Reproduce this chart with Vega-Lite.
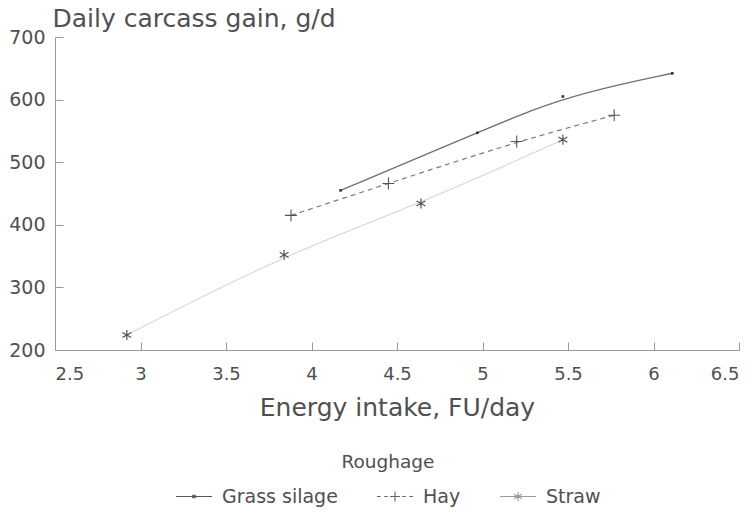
{
  "$schema": "https://vega.github.io/schema/vega-lite/v6.json",
  "autosize": "none",
  "padding": {"left": 55, "top": 37, "right": 14, "bottom": 163},
  "width": 684,
  "height": 313,
  "background": "white",
  "config": {
    "font": "DejaVu Sans",
    "view": {"stroke": null},
    "axis": {"grid": false, "domainColor": "#999", "tickColor": "#999", "labelColor": "#505050", "titleColor": "#505050", "labelFont": "DejaVu Sans", "titleFont": "DejaVu Sans", "titleFontWeight": "normal"}
  },
  "data": {
    "values": [
      {"roughage": "Grass silage", "energy": 4.17, "gain": 455},
      {"roughage": "Grass silage", "energy": 4.97, "gain": 547},
      {"roughage": "Grass silage", "energy": 5.47, "gain": 605},
      {"roughage": "Grass silage", "energy": 6.11, "gain": 642},
      {"roughage": "Hay", "energy": 3.88, "gain": 415},
      {"roughage": "Hay", "energy": 4.45, "gain": 466},
      {"roughage": "Hay", "energy": 5.2, "gain": 533},
      {"roughage": "Hay", "energy": 5.77, "gain": 575},
      {"roughage": "Straw", "energy": 2.92, "gain": 224},
      {"roughage": "Straw", "energy": 3.84, "gain": 352},
      {"roughage": "Straw", "energy": 4.64, "gain": 434},
      {"roughage": "Straw", "energy": 5.47, "gain": 536}
    ]
  },
  "encoding": {
    "x": {
      "field": "energy", "type": "quantitative",
      "scale": {"domain": [2.5, 6.5], "nice": false, "zero": false},
      "axis": {
        "values": [2.5, 3, 3.5, 4, 4.5, 5, 5.5, 6, 6.5],
        "format": "~g",
        "title": "Energy intake, FU/day",
        "titleFontSize": 25,
        "titleBaseline": "alphabetic",
        "titleY": 65,
        "labelFontSize": 18,
        "tickSize": -8,
        "labelPadding": 23
      }
    },
    "y": {
      "field": "gain", "type": "quantitative",
      "scale": {"domain": [200, 700], "nice": false, "zero": false},
      "axis": {
        "values": [200, 300, 400, 500, 600, 700],
        "title": "Daily carcass gain, g/d",
        "titleAngle": 0,
        "titleAlign": "left",
        "titleBaseline": "alphabetic",
        "titleX": -3,
        "titleY": -11,
        "titleFontSize": 25,
        "labelFontSize": 19,
        "tickSize": -8,
        "labelPadding": 18
      }
    }
  },
  "layer": [
    {
      "transform": [{"filter": "datum.roughage === 'Grass silage'"}],
      "mark": {"type": "line", "interpolate": "basis", "color": "#707070", "strokeWidth": 1.4},
      "encoding": {}
    },
    {
      "transform": [{"filter": "datum.roughage === 'Hay'"}],
      "mark": {"type": "line", "interpolate": "basis", "color": "#7a7a7a", "strokeWidth": 1.2, "strokeDash": [5, 4]},
      "encoding": {}
    },
    {
      "transform": [{"filter": "datum.roughage === 'Straw'"}],
      "mark": {"type": "line", "interpolate": "basis", "color": "#cfcfcf", "strokeWidth": 1},
      "encoding": {}
    },
    {
      "transform": [{"filter": "datum.roughage === 'Grass silage'"}],
      "mark": {"type": "point", "filled": false, "color": "#333", "strokeWidth": 1.4, "opacity": 1, "size": 144, "shape": "M-0.1,-0.1L0.1,-0.1L0.1,0.1L-0.1,0.1Z"}
    },
    {
      "transform": [{"filter": "datum.roughage === 'Hay'"}],
      "mark": {"type": "point", "filled": false, "color": "#555", "strokeWidth": 1.1, "opacity": 1, "size": 144, "shape": "M-1,0L1,0M0,-1L0,1"}
    },
    {
      "transform": [{"filter": "datum.roughage === 'Straw'"}],
      "mark": {"type": "point", "filled": false, "color": "#555", "strokeWidth": 1.2, "opacity": 1, "size": 144, "shape": "M0,-0.85L0,0.85M-0.74,-0.43L0.74,0.43M-0.74,0.43L0.74,-0.43"}
    },
    {
      "mark": {"type": "point", "filled": false, "opacity": 0, "strokeWidth": 1.1},
      "encoding": {
        "color": {"field": "roughage", "type": "nominal",
          "scale": {"domain": ["Grass silage", "Hay", "Straw"], "range": ["#555555", "#666666", "#999999"]}},
        "shape": {
          "field": "roughage", "type": "nominal",
          "scale": {"domain": ["Grass silage", "Hay", "Straw"], "range": [
            "M-1,0L1,0M-0.07,-0.07L0.07,-0.07L0.07,0.07L-0.07,0.07Z",
            "M-1,0L-0.8,0M-0.6,0L-0.4,0M0.4,0L0.6,0M0.8,0L1,0M-0.28,0L0.28,0M0,-0.28L0,0.28",
            "M-1,0L1,0M0,-0.25L0,0.25M-0.22,-0.13L0.22,0.13M-0.22,0.13L0.22,-0.13"
          ]},
          "legend": {
            "title": "Roughage",
            "orient": "none",
            "legendX": 120,
            "legendY": 416,
            "direction": "horizontal",
            "titleOrient": "top",
            "titleAnchor": "middle",
            "titleFontSize": 18.5,
            "titleFontWeight": "normal",
            "titleColor": "#505050",
            "titleFont": "DejaVu Sans",
            "titlePadding": 6,
            "labelFontSize": 19,
            "labelColor": "#505050",
            "labelFont": "DejaVu Sans",
            "labelOffset": 9,
            "columnPadding": 36,
            "symbolSize": 1296,
            "symbolOpacity": 1,
            "symbolStrokeWidth": 1.1
          }
        }
      }
    }
  ]
}
